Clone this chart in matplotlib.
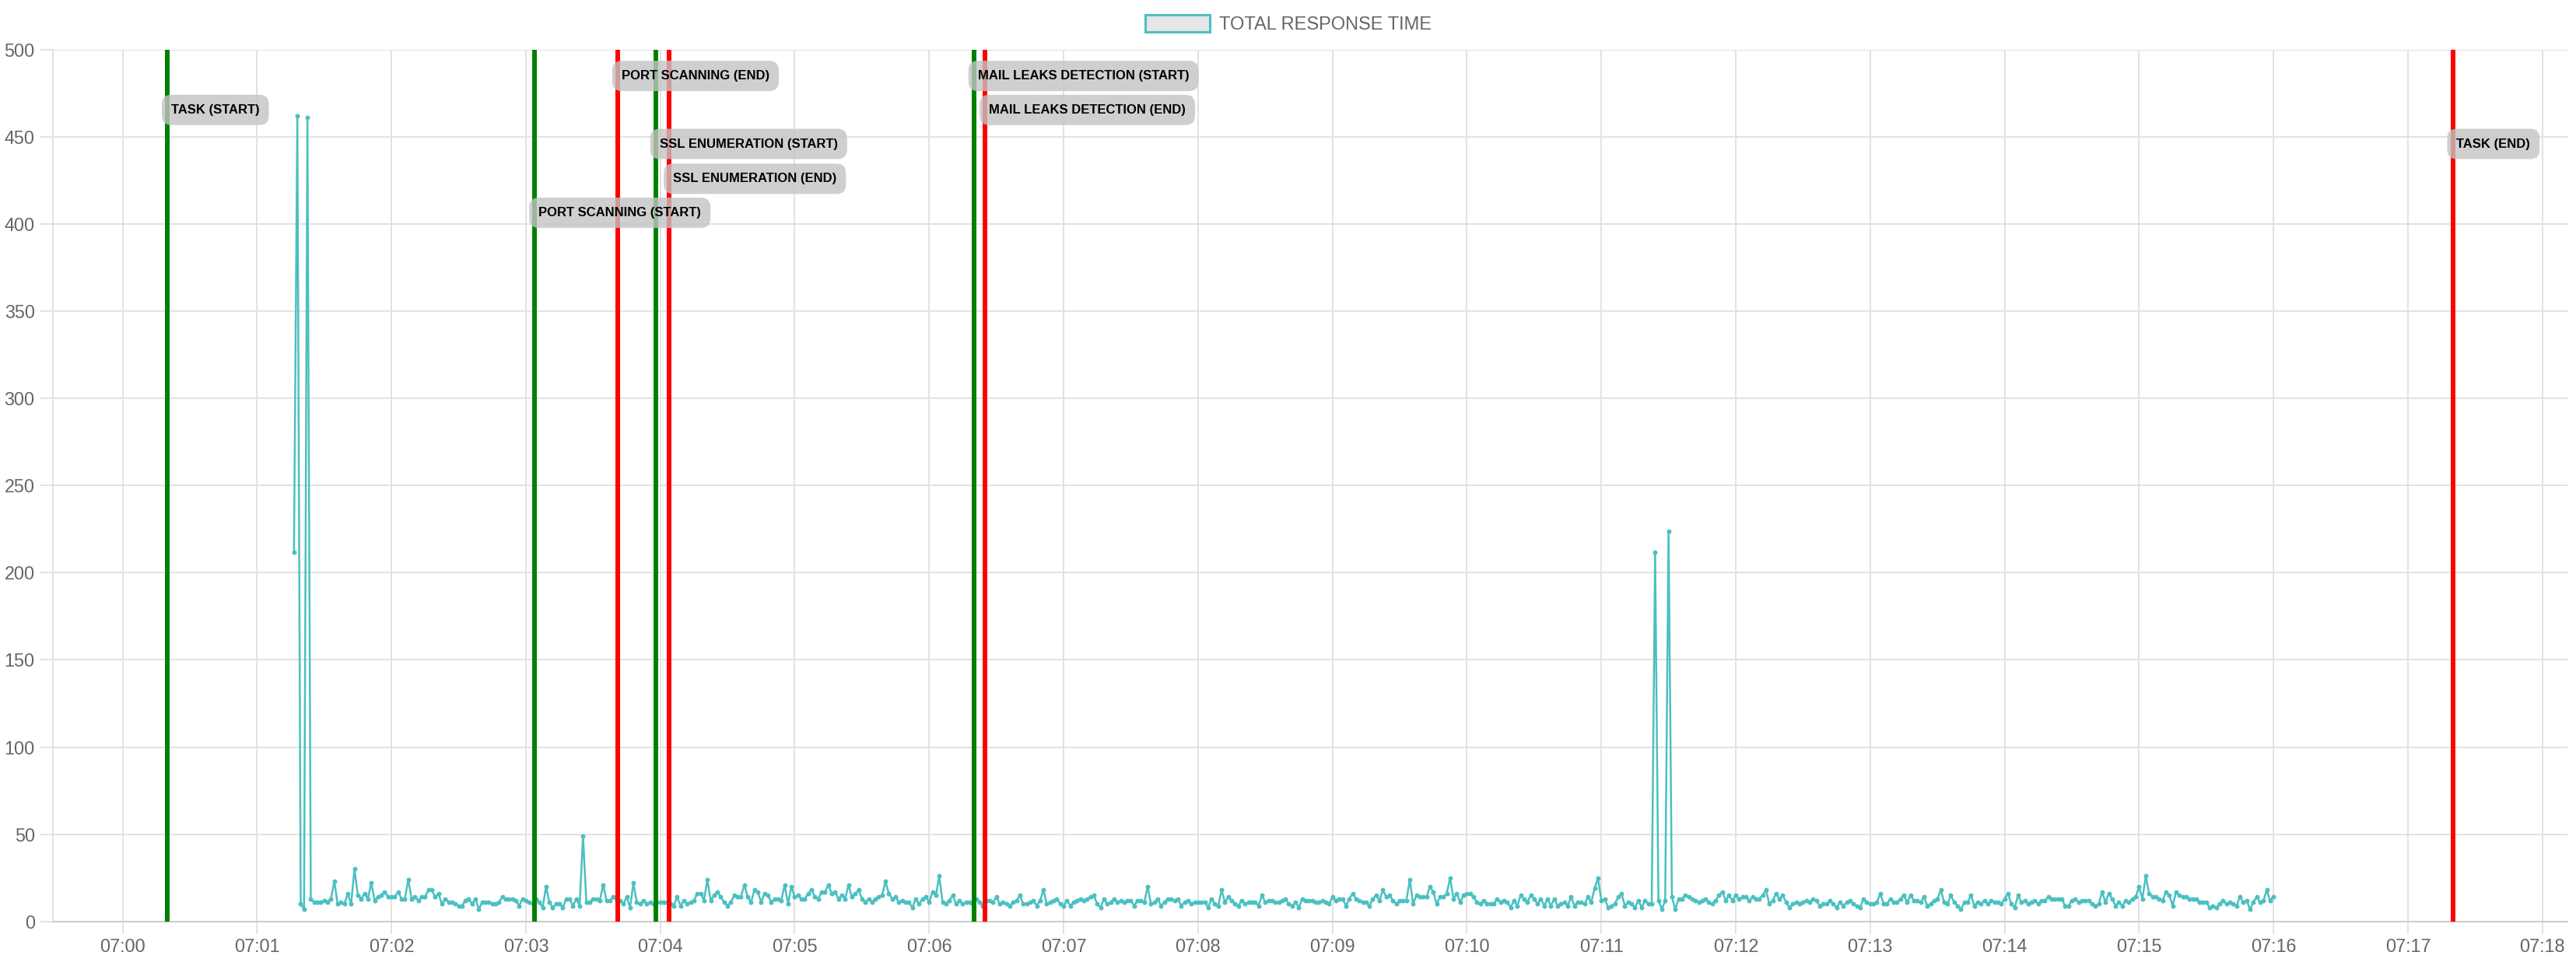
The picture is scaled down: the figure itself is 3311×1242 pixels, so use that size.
import pandas as pd
import matplotlib
matplotlib.use('Agg')
import matplotlib.pyplot as plt
import matplotlib.dates as mdates
from matplotlib.patches import Patch

plt.rcParams['font.family'] = ['Liberation Sans', 'DejaVu Sans']

# total response time, one sample every 1.5 s starting 07:01:16.5
rt_0701 = [212, 462, 10, 7, 461, 13, 11, 11, 11, 12, 11, 13, 23, 10, 11, 10, 16, 10, 30, 15,
           13, 16, 13, 22, 12, 14, 15, 17, 14]
rt_0702 = [14, 14, 17, 13, 13, 24, 13, 14, 12, 14, 14, 18, 18, 14, 16, 10, 13, 11, 11, 10,
           9, 9, 12, 13, 10, 13, 7, 11, 11, 11, 10, 10, 11, 14, 13, 13, 13, 12, 9, 13]
rt_0703 = [12, 11, 10, 13, 11, 8, 20, 11, 8, 10, 10, 8, 13, 13, 9, 13, 9, 49, 11, 11,
           13, 13, 12, 21, 12, 12, 14, 12, 12, 10, 14, 8, 22, 11, 10, 12, 10, 11, 10, 11]
rt_0704 = [11, 11, 11, 10, 9, 14, 9, 12, 10, 11, 12, 16, 16, 12, 24, 12, 15, 17, 14, 11,
           9, 11, 15, 14, 14, 21, 14, 11, 18, 17, 11, 16, 15, 11, 13, 13, 12, 21, 10, 20]
rt_0705 = [14, 15, 13, 13, 16, 18, 14, 13, 17, 17, 21, 16, 17, 13, 15, 13, 21, 14, 16, 18,
           13, 11, 13, 11, 13, 14, 15, 23, 16, 13, 14, 11, 12, 11, 11, 8, 13, 10, 13, 14]
rt_0706 = [11, 17, 15, 26, 11, 10, 12, 15, 10, 12, 10, 11, 11, 10, 13, 11, 9, 12, 12, 11,
           14, 10, 11, 10, 9, 11, 12, 15, 10, 10, 11, 12, 9, 12, 18, 10, 11, 12, 13, 10]
rt_0707 = [9, 12, 9, 11, 12, 13, 12, 13, 14, 15, 10, 8, 13, 10, 11, 13, 11, 12, 11, 12,
           12, 9, 12, 12, 11, 20, 10, 11, 13, 9, 11, 13, 13, 12, 13, 9, 11, 12, 10, 11]
rt_0708 = [11, 11, 11, 8, 13, 10, 9, 18, 11, 14, 12, 10, 9, 12, 10, 11, 11, 11, 9, 15,
           11, 12, 12, 11, 11, 12, 13, 10, 9, 11, 8, 13, 12, 12, 12, 11, 11, 12, 11, 10]
rt_0709 = [14, 12, 13, 13, 9, 13, 16, 13, 12, 11, 11, 9, 13, 15, 12, 18, 14, 15, 12, 10,
           12, 12, 12, 24, 10, 15, 14, 14, 14, 20, 17, 10, 14, 14, 16, 25, 13, 16, 11, 15]
rt_0710 = [16, 16, 14, 11, 10, 12, 10, 10, 10, 13, 11, 12, 11, 8, 12, 9, 15, 13, 11, 15,
           13, 10, 13, 9, 13, 9, 13, 9, 10, 11, 9, 14, 9, 11, 11, 10, 14, 11, 19, 25]
rt_0711 = [12, 13, 8, 9, 10, 14, 16, 9, 11, 10, 8, 12, 8, 12, 10, 10, 212, 12, 7, 12,
           224, 14, 7, 13, 13, 15, 14, 13, 12, 11, 12, 13, 11, 10, 12, 15, 17, 12, 15, 12]
rt_0712 = [15, 13, 14, 14, 12, 14, 13, 13, 15, 18, 10, 12, 16, 13, 15, 11, 8, 10, 11, 10,
           11, 12, 11, 13, 12, 9, 10, 10, 12, 10, 8, 11, 9, 11, 12, 10, 9, 8, 13, 11]
rt_0713 = [10, 10, 11, 16, 10, 10, 13, 11, 11, 13, 15, 11, 15, 12, 12, 11, 14, 9, 10, 12,
           13, 18, 11, 10, 15, 11, 9, 7, 11, 11, 15, 9, 11, 10, 12, 10, 12, 11, 11, 10]
rt_0714 = [13, 16, 10, 8, 15, 11, 12, 10, 11, 12, 10, 12, 12, 14, 13, 13, 13, 13, 9, 9,
           12, 13, 11, 12, 12, 12, 10, 9, 10, 17, 11, 16, 13, 9, 11, 9, 12, 11, 13, 14]
rt_0715 = [20, 13, 26, 16, 14, 14, 13, 12, 17, 15, 9, 17, 15, 14, 14, 13, 13, 13, 11, 11,
           11, 8, 9, 8, 10, 12, 10, 11, 10, 9, 14, 11, 12, 7, 11, 14, 11, 12, 18, 12]
rt_0716 = [14]

response = (rt_0701 + rt_0702 + rt_0703 + rt_0704 + rt_0705 + rt_0706 + rt_0707 + rt_0708
            + rt_0709 + rt_0710 + rt_0711 + rt_0712 + rt_0713 + rt_0714 + rt_0715 + rt_0716)
day = '2024-01-01 '
times = pd.date_range(day + '07:01:16.5', periods=len(response), freq='1500ms')

# task phases
event_names = ['TASK (START)', 'PORT SCANNING (START)', 'PORT SCANNING (END)',
               'SSL ENUMERATION (START)', 'SSL ENUMERATION (END)',
               'MAIL LEAKS DETECTION (START)', 'MAIL LEAKS DETECTION (END)', 'TASK (END)']
event_times = ['07:00:20', '07:03:04', '07:03:41', '07:03:58', '07:04:04',
               '07:06:20', '07:06:25', '07:17:20']
event_kind = ['start', 'start', 'end', 'start', 'end', 'start', 'end', 'end']

# label heights (layout only)
label_y = [465.5, 406.5, 485, 446, 426, 485, 465.5, 446]

fig = plt.figure(figsize=(33.12, 12.42), dpi=100)
ax = fig.add_axes([0.02044, 0.04614, 0.97594, 0.90233])

ax.plot(times, response, color='#4bc0c0', lw=1.8, marker='o', ms=4.3, mew=0, zorder=2)

for name, t, kind, ly in zip(event_names, event_times, event_kind, label_y):
    x = mdates.date2num(pd.Timestamp(day + t).to_pydatetime())
    col = '#008000' if kind == 'start' else '#ff0000'
    ax.axvline(x, color=col, lw=4.3, zorder=3)
    ax.annotate(name, xy=(x, ly), xytext=(3.5, 0), textcoords='offset points',
                ha='left', va='center', fontsize=12, fontweight='bold', color='black',
                zorder=5,
                bbox=dict(boxstyle='round,pad=0.72,rounding_size=0.75',
                          fc=(0.77, 0.77, 0.77), ec='none', alpha=0.8))

ax.set_ylim(0, 500)
ax.set_yticks(range(0, 501, 50))
ax.set_xlim(pd.Timestamp(day + '06:59:28.8'), pd.Timestamp(day + '07:18:11.2'))
ax.xaxis.set_major_locator(mdates.MinuteLocator())
ax.xaxis.set_major_formatter(mdates.DateFormatter('%H:%M'))

ax.grid(True, color='#e2e2e2', lw=1.4)
ax.set_axisbelow(True)
ax.tick_params(axis='both', colors='#e2e2e2', labelcolor='#666666', labelsize=16.8,
               length=11.5, width=1.4)
ax.tick_params(axis='x', pad=4)
ax.tick_params(axis='y', pad=5)
for s in ['top', 'right']:
    ax.spines[s].set_visible(False)
ax.spines['left'].set_color('#e2e2e2')
ax.spines['left'].set_linewidth(1.4)
ax.spines['bottom'].set_color('#cdcdcd')
ax.spines['bottom'].set_linewidth(1.5)

fig.legend(handles=[Patch(facecolor='#e6e6e6', edgecolor='#4bc0c0', lw=2.2,
                          label='TOTAL RESPONSE TIME')],
           loc='center', bbox_to_anchor=(0.5, 0.975), frameon=False, fontsize=17,
           handlelength=3.5, handleheight=1.05, handletextpad=0.5, labelcolor='#666666')

fig.savefig('out.png', dpi=100)
